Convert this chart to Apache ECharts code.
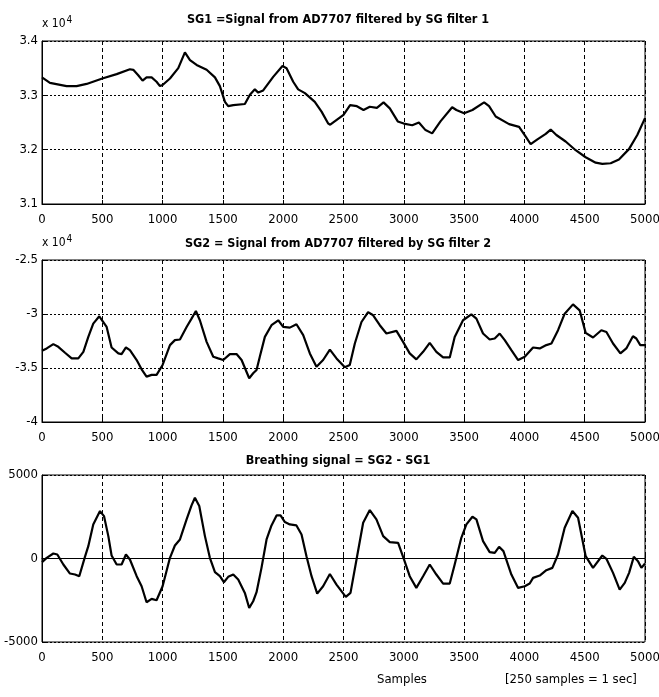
<!DOCTYPE html>
<html>
<head>
<meta charset="utf-8">
<script src="https://cdn.jsdelivr.net/npm/echarts@6/dist/echarts.min.js"></script>
<style>
  html, body { margin: 0; padding: 0; background: #fff; }
  #chart { width: 659px; height: 697px; }
</style>
</head>
<body>
<div id="chart"></div>
<script>
// --- Data ---
const xTicks = [0, 500, 1000, 1500, 2000, 2500, 3000, 3500, 4000, 4500, 5000];

// SG1 (x 10^4)
const sg1X = [0, 66, 204, 287, 370, 500, 619, 729, 757, 798, 834, 867, 909, 950, 978, 1000, 1061, 1130, 1185, 1199, 1227, 1282, 1365, 1434, 1475, 1517, 1544, 1586, 1682, 1724, 1765, 1793, 1834, 1917, 1994, 2028, 2083, 2124, 2180, 2262, 2318, 2373, 2390, 2500, 2555, 2611, 2666, 2718, 2777, 2832, 2884, 2950, 3000, 3070, 3125, 3180, 3235, 3304, 3401, 3436, 3500, 3569, 3666, 3707, 3762, 3873, 3956, 4011, 4052, 4108, 4177, 4218, 4265, 4342, 4425, 4508, 4591, 4646, 4715, 4784, 4867, 4936, 5000];
const sg1Y = [3.333, 3.323, 3.317, 3.317, 3.321, 3.331, 3.339, 3.348, 3.347, 3.337, 3.327, 3.333, 3.333, 3.325, 3.317, 3.319, 3.331, 3.350, 3.379, 3.377, 3.365, 3.356, 3.347, 3.333, 3.317, 3.288, 3.280, 3.282, 3.284, 3.301, 3.311, 3.305, 3.309, 3.334, 3.354, 3.350, 3.325, 3.311, 3.304, 3.288, 3.270, 3.248, 3.246, 3.264, 3.282, 3.280, 3.273, 3.279, 3.277, 3.287, 3.276, 3.252, 3.248, 3.245, 3.250, 3.236, 3.230, 3.252, 3.278, 3.273, 3.267, 3.273, 3.287, 3.280, 3.261, 3.247, 3.242, 3.224, 3.210, 3.219, 3.229, 3.237, 3.227, 3.215, 3.199, 3.186, 3.176, 3.174, 3.175, 3.182, 3.201, 3.227, 3.258];

// SG2 (x 10^4)
const sg2X = [0, 39, 94, 135, 191, 246, 301, 343, 384, 425, 475, 536, 577, 633, 660, 696, 729, 785, 826, 867, 909, 950, 1000, 1061, 1102, 1144, 1199, 1240, 1276, 1309, 1365, 1420, 1461, 1503, 1558, 1613, 1655, 1718, 1751, 1779, 1806, 1848, 1903, 1959, 2000, 2055, 2110, 2166, 2221, 2276, 2331, 2387, 2442, 2511, 2552, 2594, 2649, 2704, 2746, 2801, 2856, 2939, 2994, 3049, 3104, 3160, 3215, 3270, 3326, 3381, 3422, 3491, 3560, 3602, 3657, 3712, 3754, 3795, 3837, 3892, 3948, 4003, 4072, 4127, 4182, 4224, 4279, 4334, 4403, 4458, 4508, 4569, 4638, 4680, 4735, 4796, 4845, 4900, 4928, 4961, 5000];
const sg2Y = [-3.340, -3.319, -3.279, -3.304, -3.359, -3.411, -3.411, -3.350, -3.212, -3.089, -3.021, -3.120, -3.310, -3.365, -3.371, -3.310, -3.334, -3.426, -3.512, -3.580, -3.564, -3.564, -3.472, -3.288, -3.242, -3.236, -3.120, -3.043, -2.972, -3.058, -3.258, -3.396, -3.411, -3.426, -3.371, -3.371, -3.426, -3.595, -3.549, -3.518, -3.396, -3.212, -3.104, -3.058, -3.120, -3.126, -3.095, -3.196, -3.365, -3.488, -3.426, -3.330, -3.411, -3.494, -3.472, -3.273, -3.074, -2.982, -3.012, -3.104, -3.181, -3.156, -3.258, -3.365, -3.420, -3.350, -3.267, -3.350, -3.402, -3.402, -3.212, -3.058, -3.003, -3.043, -3.181, -3.236, -3.227, -3.181, -3.242, -3.334, -3.426, -3.396, -3.310, -3.319, -3.288, -3.273, -3.150, -2.997, -2.911, -2.966, -3.175, -3.218, -3.150, -3.166, -3.273, -3.365, -3.319, -3.206, -3.227, -3.288, -3.288];

// Breathing signal = SG2 - SG1
const brX = [0, 39, 94, 127, 177, 232, 274, 309, 356, 384, 425, 481, 514, 550, 577, 619, 660, 696, 729, 785, 826, 867, 909, 950, 1000, 1061, 1102, 1144, 1199, 1240, 1268, 1304, 1351, 1392, 1434, 1475, 1508, 1544, 1586, 1627, 1682, 1718, 1751, 1779, 1820, 1862, 1903, 1945, 1978, 2014, 2055, 2110, 2152, 2193, 2235, 2282, 2331, 2387, 2442, 2519, 2558, 2608, 2663, 2718, 2773, 2829, 2884, 2953, 3000, 3049, 3104, 3160, 3215, 3270, 3326, 3381, 3422, 3477, 3519, 3569, 3602, 3657, 3712, 3754, 3790, 3826, 3892, 3948, 4003, 4044, 4072, 4127, 4182, 4232, 4279, 4334, 4398, 4445, 4508, 4569, 4646, 4680, 4735, 4790, 4832, 4868, 4907, 4942, 4970, 5000];
const brY = [-220, 40, 300, 240, -360, -900, -960, -1060, 100, 740, 2040, 2840, 2540, 1340, 180, -360, -360, 240, -60, -1060, -1660, -2620, -2420, -2500, -1660, 40, 780, 1140, 2340, 3180, 3640, 3140, 1340, 40, -820, -1060, -1420, -1100, -960, -1260, -2060, -2960, -2560, -2020, -560, 1140, 1980, 2580, 2580, 2180, 2040, 1980, 1440, 140, -1060, -2100, -1660, -930, -1560, -2300, -2060, -60, 2140, 2900, 2340, 1340, 980, 940, -20, -1060, -1760, -1060, -360, -960, -1500, -1500, -360, 1240, 2040, 2500, 2340, 1040, 380, 340, 700, 440, -960, -1760, -1660, -1500, -1160, -1020, -700, -560, 240, 1840, 2840, 2440, 140, -560, 180, -20, -860, -1860, -1460, -860, 100, -160, -560, -300];

const titles = [
  'SG1 =Signal from AD7707 filtered by SG filter 1',
  'SG2 = Signal from AD7707 filtered by SG filter 2',
  'Breathing signal = SG2 - SG1'
];

// --- Chart ---
const FONT = "'DejaVu Sans Condensed', 'Liberation Sans Narrow', sans-serif";
const zip = (xs, ys) => xs.map((x, i) => [x, ys[i]]);
const plain = v => String(v);   // matlab style: no thousand separators

const grids = [
  { left: 42, right: 14, top: 41, height: 163 },
  { left: 42, right: 14, top: 260, height: 162 },
  { left: 42, right: 14, top: 475, height: 167 }
].map(g => Object.assign(g, {
  show: true, borderColor: '#000', borderWidth: 1, backgroundColor: '#fff',
  containLabel: false, outerBoundsMode: 'none'
}));

const yRanges = [
  { min: 3.1, max: 3.4, interval: 0.1 },
  { min: -4, max: -2.5, interval: 0.5 },
  { min: -5000, max: 5000, interval: 5000 }
];

const xAxes = grids.map((g, i) => ({
  gridIndex: i,
  type: 'value',
  min: xTicks[0],
  max: xTicks[xTicks.length - 1],
  interval: 500,
  axisLine: { show: true, lineStyle: { color: '#000', width: 1 } },
  axisTick: { show: true, inside: true, length: 4, lineStyle: { color: '#000' } },
  axisLabel: { color: '#000', fontFamily: FONT, fontSize: 13, margin: 9, showMinLabel: true, showMaxLabel: true, formatter: plain },
  splitLine: { show: true, lineStyle: { color: '#000', type: [4, 3], width: 1 } }
}));

const yAxes = yRanges.map((r, i) => ({
  gridIndex: i,
  type: 'value',
  min: r.min,
  max: r.max,
  interval: r.interval,
  name: i < 2 ? 'x 10{sup|4}' : '',
  nameLocation: 'end',
  nameGap: 8,
  nameTextStyle: {
    align: 'left', color: '#000', fontFamily: FONT, fontSize: 12, padding: [0, 0, 0, 0],
    rich: { sup: { fontSize: 10, verticalAlign: 'top', padding: [0, 0, 8, 1], fontFamily: FONT, color: '#000' } }
  },
  axisLine: { show: true, lineStyle: { color: '#000', width: 1 } },
  axisTick: { show: true, inside: true, length: 4, lineStyle: { color: '#000' } },
  axisLabel: { color: '#000', fontFamily: FONT, fontSize: 13, margin: 4, showMinLabel: true, showMaxLabel: true, formatter: plain },
  splitLine: { show: true, lineStyle: { color: '#000', type: [2, 2], width: 1 } }
}));

const series = [zip(sg1X, sg1Y), zip(sg2X, sg2Y), zip(brX, brY)].map((d, i) => ({
  type: 'line',
  xAxisIndex: i,
  yAxisIndex: i,
  data: d,
  showSymbol: false,
  smooth: false,
  animation: false,
  lineStyle: { color: '#000', width: 2.2 }
}));

const titleTops = [13, 237, 454];

const chart = echarts.init(document.getElementById('chart'), null, { renderer: 'canvas' });
chart.setOption({
  animation: false,
  backgroundColor: '#fff',
  title: titles.map((t, i) => ({
    text: t,
    left: 338,
    top: titleTops[i],
    textAlign: 'center',
    padding: 0,
    textStyle: { color: '#000', fontFamily: FONT, fontSize: 12.5, fontWeight: 'bold' }
  })),
  grid: grids,
  xAxis: xAxes,
  yAxis: yAxes,
  series: series,
  graphic: [
    { type: 'text', left: 377, top: 673, style: { text: 'Samples', fill: '#000', font: '13px ' + FONT } },
    { type: 'text', left: 505, top: 673, style: { text: '[250 samples = 1 sec]', fill: '#000', font: '13px ' + FONT } }
  ]
});
</script>
</body>
</html>
